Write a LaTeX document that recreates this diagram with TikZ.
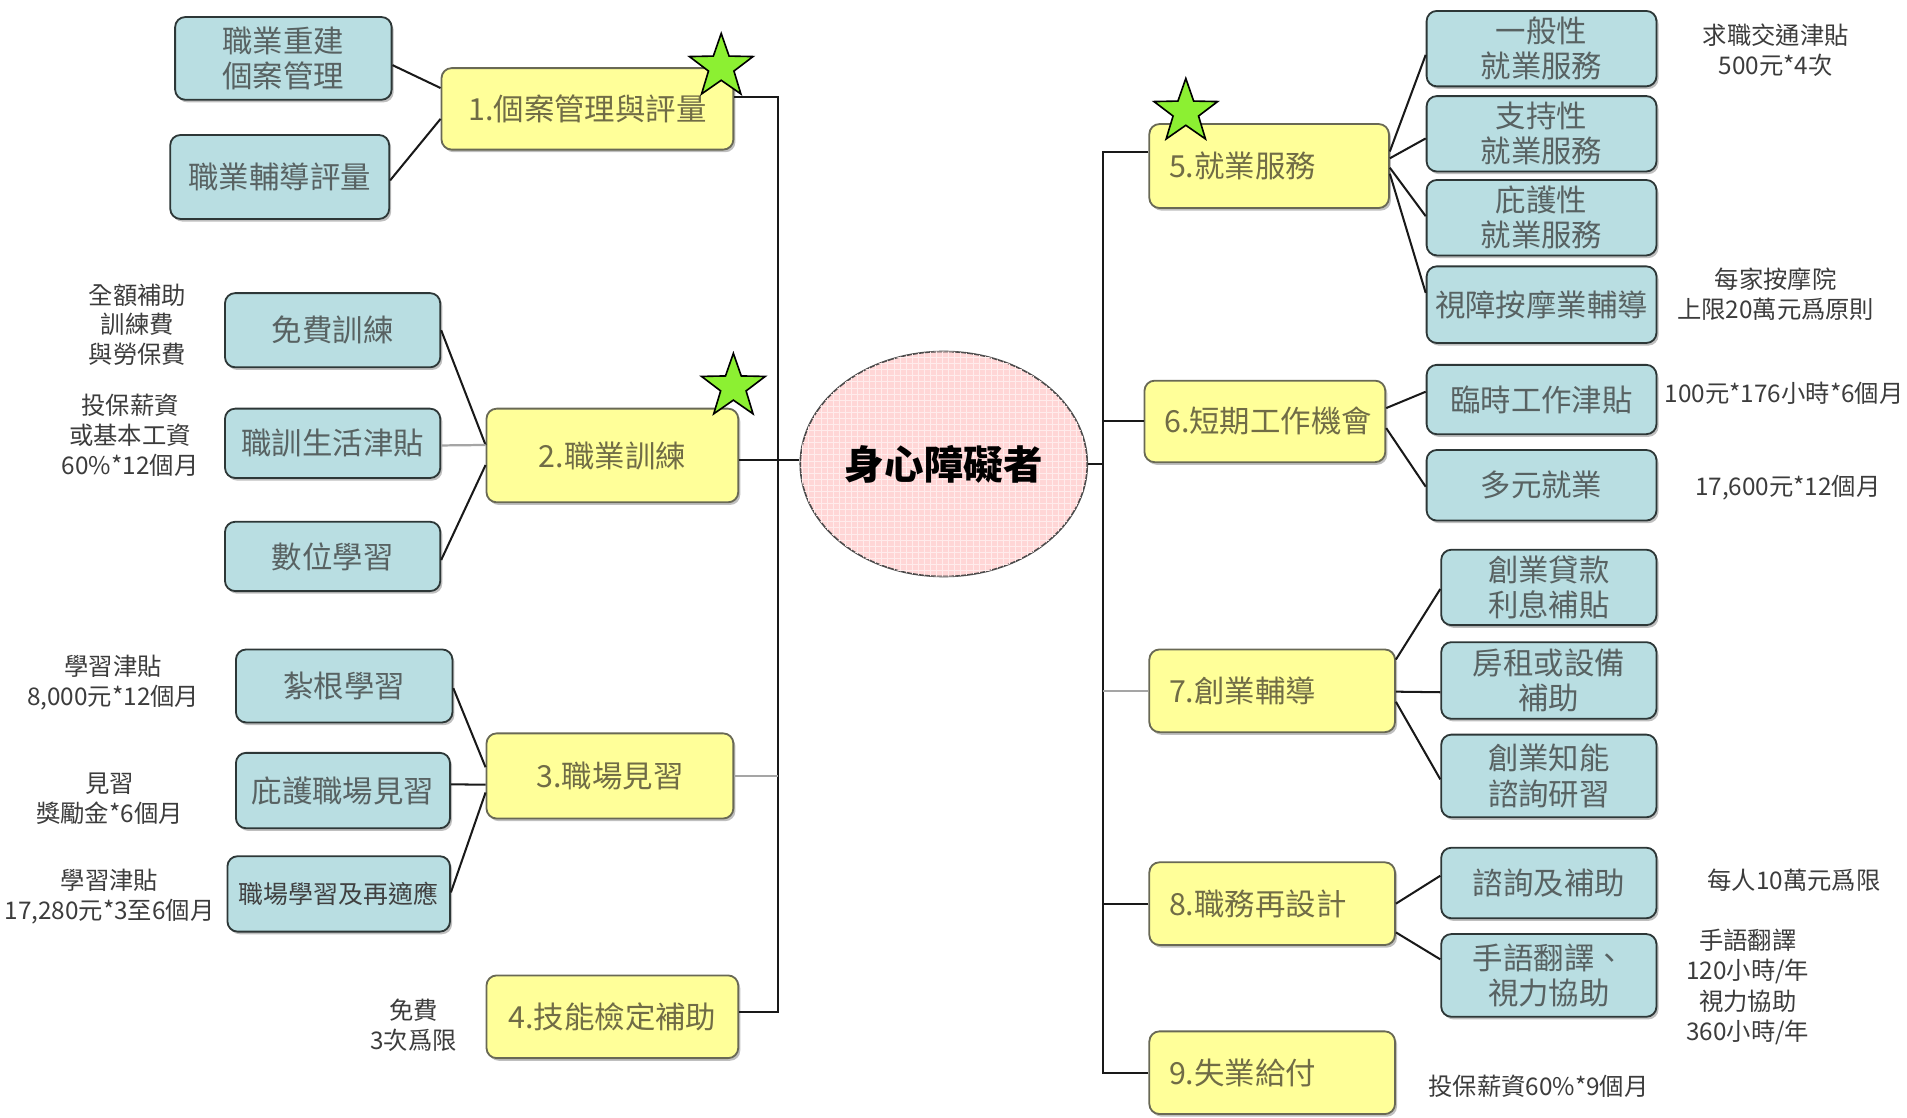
\documentclass[tikz,border=0pt]{standalone}
\usepackage{fontspec}
\setmainfont{Noto Sans CJK TC}
\usetikzlibrary{shapes.geometric,shadows,patterns,calc}
\definecolor{cfill}{RGB}{185,222,226}
\definecolor{cbord}{RGB}{45,55,55}
\definecolor{ctext}{RGB}{88,98,98}
\definecolor{yfill}{RGB}{255,255,153}
\definecolor{ybord}{RGB}{105,105,85}
\definecolor{ytext}{RGB}{112,108,70}
\definecolor{ntext}{RGB}{60,60,60}
\definecolor{pinkfill}{RGB}{255,214,214}
\definecolor{pinkgrid}{RGB}{255,236,236}
\definecolor{stargreen}{RGB}{140,240,50}
\definecolor{glinecol}{RGB}{165,165,165}
\tikzset{
  wh/.style 2 args={minimum width=#1*0.6pt, minimum height=#2*0.6pt},
  shadowed/.style={drop shadow={shadow xshift=1pt, shadow yshift=-1.3pt, opacity=0.25, fill=black}},
  cbox/.style={shadowed, draw=cbord, fill=cfill, rounded corners=5pt, line width=0.9pt,
    text=ctext, font=\fontsize{15}{17.4}\selectfont, align=center, inner sep=0pt},
  ybox/.style={shadowed, draw=ybord, fill=yfill, rounded corners=5pt, line width=0.9pt,
    text=ytext, font=\fontsize{15}{17.4}\selectfont, align=center, inner sep=0pt},
  ytxt/.style={text=ytext, font=\fontsize{15}{17.4}\selectfont, inner sep=0pt, anchor=west},
  note/.style={text=ntext, font=\fontsize{12}{14.7}\selectfont, align=center, inner sep=0pt},
  link/.style={draw=black!90, line width=1pt},
  glink/.style={draw=glinecol, line width=1.1pt},
  star5/.style={star, star points=5, star point ratio=2.5, fill=stargreen, draw=black,
    line width=0.8pt, minimum size=33pt, inner sep=0pt},
}
\begin{document}
\begin{tikzpicture}[x=0.6pt,y=-0.6pt]
\useasboundingbox (0,0) rectangle (1568,919);

% ---------- centre ----------
\node[ellipse, draw=black!70, line width=0.8pt, fill=pinkfill,
      postaction={pattern=grid, pattern color=pinkgrid},
      minimum width=236*0.6pt, minimum height=185*0.6pt, inner sep=0pt,
      font=\fontsize{19.5}{22}\selectfont\bfseries] (ctr) at (776,381.5) {身心障礙者};

% ---------- left yellow ----------
\node[ybox, wh={240}{67}] (y1) at (483,89.5) {1.個案管理與評量};
\node[ybox, wh={207}{77}] (y2) at (503.5,374.5) {2.職業訓練};
\node[ybox, wh={203}{70}] (y3) at (501.5,638) {3.職場見習};
\node[ybox, wh={207}{68}] (y4) at (503.5,836) {4.技能檢定補助};

% ---------- left cyan ----------
\node[cbox, wh={178}{68}] (c11) at (233,48) {職業重建\\個案管理};
\node[cbox, wh={180}{69}] (c12) at (230,145.5) {職業輔導評量};
\node[cbox, wh={177}{61}] (c21) at (273.5,271.5) {免費訓練};
\node[cbox, wh={177}{57}] (c22) at (273.5,364.5) {職訓生活津貼};
\node[cbox, wh={177}{57}] (c23) at (273.5,457.5) {數位學習};
\node[cbox, wh={178}{60}] (c31) at (283,564) {紮根學習};
\node[cbox, wh={176}{62}] (c32) at (282,650) {庇護職場見習};
\node[cbox, wh={183}{62}, text=black!75, font=\fontsize{12.3}{14}\selectfont] (c33) at (278.5,735) {職場學習及再適應};

% ---------- right yellow ----------
\node[ybox, wh={197}{69}] (y5) at (1043.5,136.5) {};
\node[ytxt] (y5t) at ([xshift=10pt]y5.west) {5.就業服務};
\node[ybox, wh={198}{67}] (y6) at (1040,346.5) {};
\node[ytxt] (y6t) at ([xshift=10pt]y6.west) {6.短期工作機會};
\node[ybox, wh={202}{68}] (y7) at (1046,568) {};
\node[ytxt] (y7t) at ([xshift=10pt]y7.west) {7.創業輔導};
\node[ybox, wh={202}{68}] (y8) at (1046,743) {};
\node[ytxt] (y8t) at ([xshift=10pt]y8.west) {8.職務再設計};
\node[ybox, wh={202}{68}] (y9) at (1046,882) {};
\node[ytxt] (y9t) at ([xshift=10pt]y9.west) {9.失業給付};

% ---------- right cyan ----------
\node[cbox, wh={189}{62}] (r51) at (1267.5,40) {一般性\\就業服務};
\node[cbox, wh={189}{62}] (r52) at (1267.5,110) {支持性\\就業服務};
\node[cbox, wh={189}{62}] (r53) at (1267.5,179) {庇護性\\就業服務};
\node[cbox, wh={189}{63}] (r54) at (1267.5,250.5) {視障按摩業輔導};
\node[cbox, wh={189}{57}] (r61) at (1267.5,328.5) {臨時工作津貼};
\node[cbox, wh={189}{58}] (r62) at (1267.5,399) {多元就業};
\node[cbox, wh={177}{62}] (r71) at (1273.5,483) {創業貸款\\利息補貼};
\node[cbox, wh={177}{63}] (r72) at (1273.5,559.5) {房租或設備\\補助};
\node[cbox, wh={177}{68}] (r73) at (1273.5,638) {創業知能\\諮詢研習};
\node[cbox, wh={177}{58}] (r81) at (1273.5,726) {諮詢及補助};
\node[cbox, wh={177}{68}] (r82) at (1273.5,802) {手語翻譯、\\視力協助};

% ---------- notes ----------
\node[note] (n21) at (113,267) {全額補助\\訓練費\\與勞保費};
\node[note] (n22) at (107,358) {投保薪資\\或基本工資\\60\%*12個月};
\node[note] (n31) at (93,561) {學習津貼\\8,000元*12個月};
\node[note] (n32) at (90,657) {見習\\獎勵金*6個月};
\node[note] (n33) at (90,737.5) {學習津貼\\17,280元*3至6個月};
\node[note] (n4) at (340,843) {免費\\3次爲限};
\node[note] (n51) at (1460,41) {求職交通津貼\\500元*4次};
\node[note] (n54) at (1460,242) {每家按摩院\\上限20萬元爲原則};
\node[note] (n61) at (1467,323) {100元*176小時*6個月};
\node[note] (n62) at (1470,401) {17,600元*12個月};
\node[note] (n81) at (1475,724) {每人10萬元爲限};
\node[note, font=\fontsize{12}{15}\selectfont] (n82) at (1437,811.5) {手語翻譯\\120小時/年\\視力協助\\360小時/年};
\node[note] (n9) at (1265,893) {投保薪資60\%*9個月};

% ---------- trunks ----------
\coordinate (lt) at (640,80);
\coordinate (lb) at (640,832);
\draw[link] (y1.east |- lt) -- (lt) -- (lb) -- (y4.east |- lb);
\coordinate (y2c) at ($(y2.north east)!0.55!(y2.south east)$);
\draw[link] (y2c) -- (ctr.west |- y2c);
\draw[glink] (y3.east) -- (y3.east -| lt);

\coordinate (rt) at (907,125);
\coordinate (rb) at (907,882);
\draw[link] (y5.west |- rt) -- (rt) -- (rb) -- (y9.west |- rb);
\draw[link] (ctr.east) -- (ctr.east -| rt);
\draw[link] (y6.west) -- (y6.west -| rt);
\draw[glink] (y7.west) -- (y7.west -| rt);
\draw[link] (y8.west) -- (y8.west -| rt);

% ---------- left branches ----------
\draw[link] ($(c11.north east)!0.58!(c11.south east)$) -- ($(y1.north west)!0.25!(y1.south west)$);
\draw[link] ($(c12.north east)!0.54!(c12.south east)$) -- ($(y1.north west)!0.62!(y1.south west)$);
\draw[link] ($(c21.north east)!0.5!(c21.south east)$) -- ($(y2.north west)!0.39!(y2.south west)$);
\draw[glink] ($(c22.north east)!0.53!(c22.south east)$) -- ($(y2.north west)!0.39!(y2.south west)$);
\draw[link] ($(c23.north east)!0.55!(c23.south east)$) -- ($(y2.north west)!0.6!(y2.south west)$);
\draw[link] ($(c31.north east)!0.53!(c31.south east)$) -- ($(y3.north west)!0.4!(y3.south west)$);
\draw[link] ($(c32.north east)!0.42!(c32.south east)$) -- ($(y3.north west)!0.6!(y3.south west)$);
\draw[link] ($(c33.north east)!0.48!(c33.south east)$) -- ($(y3.north west)!0.69!(y3.south west)$);

% ---------- right branches ----------
\draw[link] ($(y5.north east)!0.33!(y5.south east)$) -- ($(r51.north west)!0.58!(r51.south west)$);
\draw[link] ($(y5.north east)!0.41!(y5.south east)$) -- ($(r52.north west)!0.56!(r52.south west)$);
\draw[link] ($(y5.north east)!0.52!(y5.south east)$) -- ($(r53.north west)!0.48!(r53.south west)$);
\draw[link] ($(y5.north east)!0.59!(y5.south east)$) -- ($(r54.north west)!0.35!(r54.south west)$);
\draw[link] ($(y6.north east)!0.34!(y6.south east)$) -- ($(r61.north west)!0.39!(r61.south west)$);
\draw[link] ($(y6.north east)!0.58!(y6.south east)$) -- ($(r62.north west)!0.52!(r62.south west)$);
\draw[link] ($(y7.north east)!0.13!(y7.south east)$) -- ($(r71.north west)!0.52!(r71.south west)$);
\draw[link] ($(y7.north east)!0.51!(y7.south east)$) -- ($(r72.north west)!0.65!(r72.south west)$);
\draw[link] ($(y7.north east)!0.63!(y7.south east)$) -- ($(r73.north west)!0.54!(r73.south west)$);
\draw[link] ($(y8.north east)!0.5!(y8.south east)$) -- ($(r81.north west)!0.4!(r81.south west)$);
\draw[link] ($(y8.north east)!0.84!(y8.south east)$) -- ($(r82.north west)!0.31!(r82.south west)$);

% ---------- stars ----------
\node[star5] (s1) at (593,55) {};
\node[star5] (s2) at (603,318) {};
\node[star5] (s3) at (975,92) {};
\end{tikzpicture}
\end{document}
